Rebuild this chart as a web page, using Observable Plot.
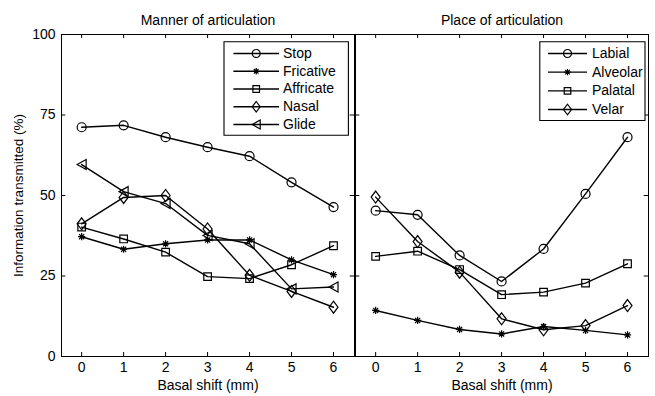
<!DOCTYPE html>
<html>
<head>
<meta charset="utf-8">
<script src="https://cdn.jsdelivr.net/npm/d3@7"></script>
<script src="https://cdn.jsdelivr.net/npm/@observablehq/plot@0.6"></script>
<style>
html, body { margin: 0; padding: 0; background: #fff; }
#chart { width: 655px; height: 396px; }
</style>
</head>
<body>
<div id="chart"></div>
<script>
// ---- data ----
const panels = ["Manner of articulation", "Place of articulation"];
const shifts = [0, 1, 2, 3, 4, 5, 6];
const yTicks = [0, 25, 50, 75, 100];
const xLabel = "Basal shift (mm)";
const yLabel = "Information transmitted (%)";

const mannerNames = ["Stop", "Fricative", "Affricate", "Nasal", "Glide"];
const stopValues      = [71.2, 71.8, 68.1, 65.0, 62.2, 54.1, 46.4];
const fricativeValues = [37.2, 33.3, 35.0, 36.2, 36.2, 30.0, 25.4];
const affricateValues = [40.2, 36.5, 32.4, 24.8, 24.2, 28.5, 34.4];
const nasalValues     = [41.2, 49.4, 50.0, 39.6, 25.2, 20.2, 15.3];
const glideValues     = [59.6, 51.2, 47.5, 37.6, 35.0, 21.0, 21.6];

const placeNames = ["Labial", "Alveolar", "Palatal", "Velar"];
const labialValues   = [45.3, 44.0, 31.4, 23.3, 33.4, 50.5, 68.1];
const alveolarValues = [14.3, 11.2, 8.4, 7.0, 9.3, 8.1, 6.7];
const palatalValues  = [31.1, 32.7, 27.0, 19.2, 20.0, 22.8, 28.8];
const velarValues    = [49.5, 35.7, 26.2, 11.7, 8.3, 9.6, 15.8];

// ---- build table ----
function buildRows(panel, names, arrays) {
  return names.flatMap((name, k) =>
    shifts.map((s, i) => ({panel, series: name, shift: s, value: arrays[k][i]})));
}
const rows = [
  ...buildRows(panels[0], mannerNames, [stopValues, fricativeValues, affricateValues, nasalValues, glideValues]),
  ...buildRows(panels[1], placeNames, [labialValues, alveolarValues, palatalValues, velarValues])
];
const xTickRows = panels.flatMap(p => shifts.map(v => ({panel: p, v})));
const yTickRows = panels.flatMap(p => yTicks.map(v => ({panel: p, v})));

// ---- custom symbols ----
const circle = (r) => ({draw(c) { c.moveTo(r, 0); c.arc(0, 0, r, 0, 2 * Math.PI); }});
const star = (r) => ({draw(c) {
  const q = r * 0.7071;
  c.moveTo(-r, 0); c.lineTo(r, 0);
  c.moveTo(0, -r); c.lineTo(0, r);
  c.moveTo(-q, -q); c.lineTo(q, q);
  c.moveTo(-q, q); c.lineTo(q, -q);
}});
const square = (s) => ({draw(c) { c.rect(-s / 2, -s / 2, s, s); }});
const diamond = (w, h) => ({draw(c) {
  c.moveTo(0, -h / 2); c.lineTo(w / 2, 0); c.lineTo(0, h / 2); c.lineTo(-w / 2, 0); c.closePath();
}});
const triLeft = (w, h) => ({draw(c) {
  c.moveTo(-w / 2, 0); c.lineTo(w / 2, -h / 2); c.lineTo(w / 2, h / 2); c.closePath();
}});
const hline = (len) => ({draw(c) { c.moveTo(-len / 2, 0); c.lineTo(len / 2, 0); }});
const box = (w, h) => ({draw(c) { c.rect(-w / 2, -h / 2, w, h); }});

const mannerSyms = [circle(4.5), star(3.6), square(7.6), diamond(9, 12), triLeft(9, 10)];
const mannerLegSyms = [circle(4), star(3.2), square(6.6), diamond(8, 10.5), triLeft(8, 9)];
const placeSyms = [circle(4.5), star(3.6), square(7.6), diamond(9, 12)];
const placeLegSyms = [circle(4), star(3.2), square(6.6), diamond(8, 10.5)];

const lineW = 1.4;
const tickLen = 4;
const frameH = 396 - 34 - 40;
const facetW = 292.7;

function seriesDots(panel, names, syms) {
  return names.map((name, k) => Plot.dot(rows.filter(d => d.panel === panel && d.series === name), {
    fx: "panel", x: "shift", y: "value", symbol: syms[k],
    stroke: "black", fill: "none", strokeWidth: 1.2
  }));
}

function legend(panel, names, syms, L) {
  const base = {fx: () => panel, x: null, y: null, frameAnchor: "top-right"};
  const out = [Plot.dot([panel], {...base, symbol: box(L.w, L.h), dx: L.boxDx, dy: L.boxDy,
    fill: "white", stroke: "black", strokeWidth: 1.1})];
  names.forEach((n, i) => {
    const dy = L.row0 + L.step * i;
    out.push(Plot.dot([n], {...base, symbol: hline(L.len), dx: L.lineDx, dy, stroke: "black", fill: "none", strokeWidth: lineW}));
    out.push(Plot.dot([n], {...base, symbol: syms[i], dx: L.lineDx, dy, stroke: "black", fill: "none", strokeWidth: 1.2}));
    out.push(Plot.text([n], {...base, text: d => d, textAnchor: "start", lineAnchor: "middle",
      dx: L.textDx, dy, fontSize: 14}));
  });
  return out;
}

// inward frame ticks (short rules hugging the frame edges), in every facet
const frameTicks = [
  Plot.ruleX(xTickRows, {fx: "panel", x: "v", insetBottom: frameH - tickLen, stroke: "black", strokeWidth: 1}),
  Plot.ruleX(xTickRows, {fx: "panel", x: "v", insetTop: frameH - tickLen, stroke: "black", strokeWidth: 1}),
  Plot.ruleY(yTickRows, {fx: "panel", y: "v", insetRight: facetW - tickLen, stroke: "black", strokeWidth: 1}),
  Plot.ruleY(yTickRows, {fx: "panel", y: "v", insetLeft: facetW - tickLen, stroke: "black", strokeWidth: 1})
];

const chart = Plot.plot({
  width: 655,
  height: 396,
  marginLeft: 61,
  marginRight: 7,
  marginTop: 34,
  marginBottom: 40,
  style: {fontFamily: "'Liberation Sans', Arial, Helvetica, sans-serif", fontSize: "14px", color: "black", background: "white"},
  fx: {domain: panels, paddingInner: 0.005, paddingOuter: 0, label: null},
  x: {domain: [-0.48, 6.5]},
  y: {domain: [0, 100]},
  marks: [
    Plot.frame({stroke: "black", strokeWidth: 1}),
    Plot.axisFx({anchor: "top", tickSize: 0, tickPadding: 10, label: null, fontSize: 14}),
    Plot.axisX({anchor: "bottom", ticks: shifts, tickFormat: d => String(d), tickSize: 0, tickPadding: 6, label: null, fontSize: 14}),
    Plot.axisY({anchor: "left", ticks: yTicks, tickFormat: d => String(d), tickSize: 0, tickPadding: 6, label: null, fontSize: 14}),
    ...frameTicks,
    Plot.line(rows, {fx: "panel", x: "shift", y: "value", z: "series", stroke: "black", strokeWidth: lineW}),
    ...seriesDots(panels[0], mannerNames, mannerSyms),
    ...seriesDots(panels[1], placeNames, placeSyms),
    Plot.text(panels, {fx: d => d, x: null, y: null, frameAnchor: "bottom", text: () => xLabel,
      lineAnchor: "top", dy: 24, fontSize: 14}),
    Plot.text([panels[0]], {fx: d => d, x: null, y: null, frameAnchor: "left", text: () => yLabel,
      rotate: -90, textAnchor: "middle", lineAnchor: "middle", dx: -43, fontSize: 13.5}),
    ...legend(panels[0], mannerNames, mannerLegSyms,
      {w: 124.4, h: 93.4, boxDx: -68.3, boxDy: 54, len: 45.6, lineDx: -98.3, textDx: -71.5, row0: 19, step: 17.75}),
    ...legend(panels[1], placeNames, placeLegSyms,
      {w: 105.2, h: 78.7, boxDx: -56.1, boxDy: 46.6, len: 39, lineDx: -81, textDx: -56.5, row0: 19, step: 18.67})
  ]
});
document.getElementById("chart").appendChild(chart);
</script>
</body>
</html>
